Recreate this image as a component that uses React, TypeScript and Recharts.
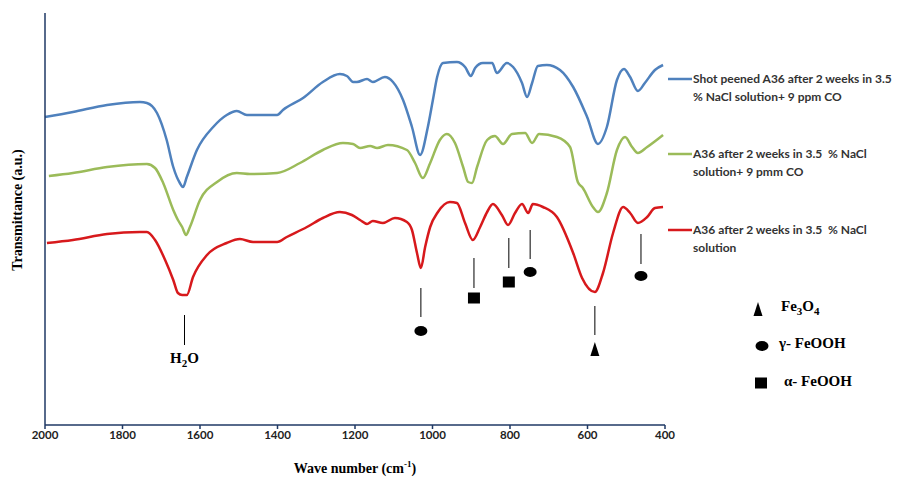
import React from "react"
import {
  LineChart,
  Line,
  XAxis,
  YAxis,
  ReferenceLine,
  ReferenceDot,
} from "recharts"

// wavenumber (cm-1) and transmittance (a.u.)
const blueWave = [2000, 1928, 1840, 1755, 1737, 1711, 1686, 1669, 1652, 1644, 1634, 1608, 1566, 1531, 1505, 1479, 1401, 1386, 1334, 1283, 1239, 1221, 1205, 1195, 1169, 1154, 1123, 1102, 1076, 1053, 1032, 1012, 999, 988, 973, 937, 916, 901, 890, 870, 846, 834, 808, 792, 769, 756, 743, 728, 705, 671, 637, 601, 573, 550, 524, 506, 490, 470, 452, 426, 405]
const blueT = [308, 313, 320, 323, 322, 312, 285, 258, 242, 238, 248, 275, 298, 310, 314, 310, 310, 315, 327, 343, 351, 349, 343, 343, 346, 343, 348, 343, 325, 298, 270, 298, 325, 348, 362, 363, 358, 349, 357, 362, 362, 352, 362, 358, 342, 328, 342, 359, 360, 355, 338, 308, 281, 298, 345, 356, 348, 334, 342, 355, 360]

const greenWave = [1990, 1928, 1840, 1737, 1716, 1695, 1669, 1657, 1646, 1636, 1626, 1600, 1556, 1505, 1471, 1401, 1342, 1283, 1231, 1205, 1187, 1161, 1143, 1115, 1066, 1045, 1025, 1006, 981, 963, 942, 921, 908, 898, 885, 859, 839, 818, 795, 761, 743, 725, 679, 645, 625, 612, 586, 573, 550, 524, 503, 485, 470, 446, 405]
const greenT = [249, 252, 258, 261, 257, 242, 215, 205, 198, 190, 198, 225, 243, 252, 251, 252, 262, 275, 282, 281, 277, 279, 277, 280, 275, 262, 247, 262, 285, 291, 282, 258, 243, 242, 258, 285, 289, 281, 291, 292, 282, 291, 288, 278, 243, 237, 218, 213, 232, 275, 288, 278, 272, 278, 290]

const redWave = [1995, 1928, 1840, 1755, 1737, 1716, 1690, 1669, 1657, 1646, 1634, 1618, 1582, 1531, 1497, 1463, 1401, 1376, 1324, 1283, 1239, 1208, 1187, 1169, 1154, 1128, 1097, 1066, 1053, 1040, 1030, 1019, 1006, 986, 955, 937, 916, 896, 877, 859, 844, 821, 805, 787, 769, 753, 741, 715, 679, 637, 614, 581, 560, 534, 508, 490, 470, 446, 426, 405]
const redT = [182, 185, 191, 193, 193, 185, 165, 145, 132, 130, 130, 148, 170, 182, 186, 183, 183, 188, 198, 207, 213, 210, 205, 201, 204, 202, 207, 203, 195, 172, 157, 178, 198, 213, 223, 222, 202, 185, 198, 213, 221, 210, 200, 212, 221, 212, 221, 218, 208, 172, 147, 133, 152, 192, 218, 212, 202, 208, 217, 218]

const xTicks = [2000, 1800, 1600, 1400, 1200, 1000, 800, 600, 400]

const seriesNames = [
  ["Shot peened A36 after 2 weeks in 3.5", "% NaCl solution+ 9 ppm CO"],
  ["A36 after 2 weeks in 3.5  % NaCl", "solution+ 9 pmm CO"],
  ["A36 after 2 weeks in 3.5  % NaCl", "solution"],
]
const COLORS = ["#4F81BD", "#9BBB59", "#D7191C"]

// peak assignments: wavenumber, line top/bottom, marker
const peakWave = [1030, 893, 803, 748, 581, 462]
const peakTop = [137, 167, 187, 195, 119, 191]
const peakBottom = [108, 137, 157, 166, 90, 161]
const peakMarkY = [94, 127, 143, 153, 76, 149]
const peakKind = ["circle", "square", "square", "circle", "triangle", "circle"]

const waterWave = 1640

const zip = (w: number[], t: number[]) => w.map((x, i) => ({ x, t: t[i] }))
const blueData = zip(blueWave, blueT)
const greenData = zip(greenWave, greenT)
const redData = zip(redWave, redT)

const sans = "Lato, 'Open Sans', sans-serif"
const serif = "'Liberation Serif', 'DejaVu Serif', serif"

function Marker({ kind, cx, cy }: { kind: string; cx: number; cy: number }) {
  if (kind === "circle") return <ellipse cx={cx} cy={cy} rx={6.5} ry={5} fill="#000" />
  if (kind === "square") return <rect x={cx - 6} y={cy - 5.5} width={12} height={11} fill="#000" />
  return <polygon points={`${cx},${cy - 7} ${cx + 4.5},${cy + 7} ${cx - 4.5},${cy + 7}`} fill="#000" />
}

export default function App() {
  const legendY = [79, 154, 230]
  return (
    <div style={{ position: "absolute", left: 0, top: 0, width: 907, height: 478, background: "#fff" }}>
      <LineChart width={907} height={478} margin={{ top: 13, right: 242, left: 10, bottom: 23 }}>
        <XAxis
          dataKey="x"
          type="number"
          domain={[400, 2000]}
          ticks={xTicks}
          reversed
          allowDuplicatedCategory={false}
          height={30}
          tickSize={4}
          stroke="#1F3864"
          strokeWidth={1.5}
          tick={{ fontFamily: sans, fontSize: 11.5, fontWeight: 700, fill: "#222" }}
        />
        <YAxis
          type="number"
          domain={[0, 412]}
          width={35}
          tick={false}
          tickLine={false}
          stroke="#1F3864"
          strokeWidth={1.5}
        />
        <Line data={blueData} dataKey="t" type="monotone" stroke={COLORS[0]} strokeWidth={2.5} dot={false} isAnimationActive={false} />
        <Line data={greenData} dataKey="t" type="monotone" stroke={COLORS[1]} strokeWidth={2.5} dot={false} isAnimationActive={false} />
        <Line data={redData} dataKey="t" type="monotone" stroke={COLORS[2]} strokeWidth={2.5} dot={false} isAnimationActive={false} />

        <ReferenceLine segment={[{ x: waterWave, y: 110 }, { x: waterWave, y: 80 }]} stroke="#000" strokeWidth={1} />
        <ReferenceDot
          x={waterWave}
          y={67}
          r={1}
          shape={(p: any) => (
            <text x={p.cx} y={p.cy + 5} textAnchor="middle" fontFamily={serif} fontWeight={700} fontSize={15}>
              H<tspan fontSize={11} dy={4}>2</tspan><tspan dy={-4}>O</tspan>
            </text>
          )}
        />
        {peakWave.map((w, i) => (
          <ReferenceLine
            key={`pl-${i}`}
            segment={[{ x: w, y: peakTop[i] }, { x: w, y: peakBottom[i] }]}
            stroke="#000"
            strokeWidth={1}
          />
        ))}
        {peakWave.map((w, i) => (
          <ReferenceDot
            key={`pm-${i}`}
            x={w}
            y={peakMarkY[i]}
            r={5}
            shape={(p: any) => <Marker kind={peakKind[i]} cx={p.cx} cy={p.cy} />}
          />
        ))}
      </LineChart>

      <svg width={907} height={478} style={{ position: "absolute", left: 0, top: 0, pointerEvents: "none" }}>
        {seriesNames.map((lines, i) => (
          <g key={i}>
            <line x1={668} x2={692} y1={legendY[i]} y2={legendY[i]} stroke={COLORS[i]} strokeWidth={2.5} />
            {lines.map((s, j) => (
              <text
                key={j}
                x={693}
                y={legendY[i] + 4 + j * 18}
                fontFamily={sans}
                fontWeight={700}
                fontSize={12}
                fill="#333"
                style={{ whiteSpace: "pre" }}
              >
                {s}
              </text>
            ))}
          </g>
        ))}

        <Marker kind="triangle" cx={758} cy={309} />
        <text x={781} y={311} fontFamily={serif} fontWeight={700} fontSize={15}>
          Fe<tspan fontSize={11} dy={4}>3</tspan><tspan dy={-4}>O</tspan><tspan fontSize={11} dy={4}>4</tspan>
        </text>
        <Marker kind="circle" cx={762} cy={346} />
        <text x={779} y={348} fontFamily={serif} fontWeight={700} fontSize={15}>γ- FeOOH</text>
        <Marker kind="square" cx={761} cy={383} />
        <text x={784} y={386} fontFamily={serif} fontWeight={700} fontSize={15}>α- FeOOH</text>

        <text
          transform="translate(22,210) rotate(-90)"
          textAnchor="middle"
          fontFamily={serif}
          fontWeight={700}
          fontSize={14}
        >
          Transmittance (a.u.)
        </text>
        <text x={355} y={473} textAnchor="middle" fontFamily={serif} fontWeight={700} fontSize={14}>
          Wave number (cm<tspan fontSize={9} dy={-6}>-1</tspan><tspan dy={6}>)</tspan>
        </text>
      </svg>
    </div>
  )
}
